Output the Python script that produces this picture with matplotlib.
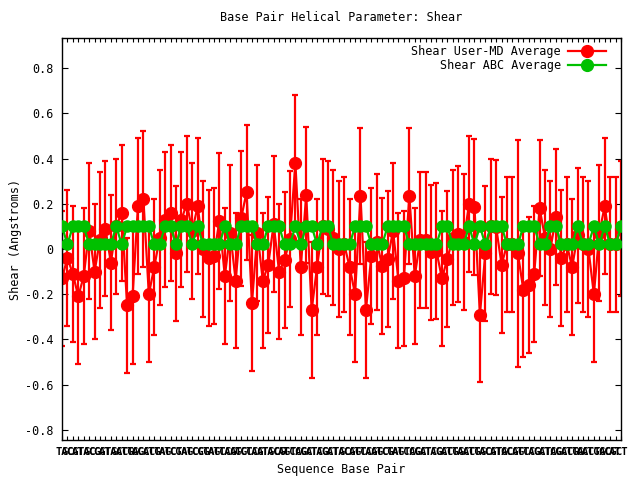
import matplotlib
matplotlib.use("Agg")
import matplotlib.pyplot as plt
from matplotlib.lines import Line2D
import numpy as np

base_pairs = ["TA", "GC", "CG", "AT", "TA", "GC", "CG", "CG", "AT", "TA",
              "GC", "AT", "CG", "TA", "GC", "GC", "AT", "CG", "TA", "AT",
              "GC", "CG", "TA", "AT", "GC", "CG", "CG", "TA", "AT", "GC",
              "TA", "CG", "AT", "GC", "GC", "TA", "CG", "AT", "TA", "GC",
              "CG", "AT", "GC", "TA", "CG", "GC", "AT", "TA", "CG", "GC",
              "AT", "TA", "GC", "CG", "AT", "GC", "TA", "CG", "AT", "GC",
              "CG", "TA", "AT", "GC", "TA", "CG", "GC", "AT", "TA", "CG",
              "GC", "AT", "CG", "TA", "GC", "AT", "CG", "TA", "GC", "CG",
              "AT", "TA", "GC", "CG", "AT", "GC", "TA", "CG", "GC", "AT",
              "TA", "CG", "GC", "AT", "CG", "TA", "GC", "AT", "CG", "TA",
              "GC", "CG", "AT", "CT"]

user_md_avg = [-0.13, -0.04, -0.11, -0.21, -0.12, 0.08, -0.10, 0.04, 0.09, -0.06,
               0.10, 0.16, -0.25, -0.21, 0.19, 0.22, -0.20, -0.08, 0.05, 0.13,
               0.16, -0.02, 0.13, 0.20, 0.08, 0.19, 0.00, -0.04, -0.03, 0.125,
               -0.12, 0.07, -0.14, 0.135, 0.25, -0.24, 0.07, -0.14, -0.07, 0.11,
               -0.10, -0.05, 0.045, 0.38, -0.08, 0.24, -0.27, -0.08, 0.10, 0.09,
               0.05, 0.00, 0.02, -0.08, -0.20, 0.235, -0.27, -0.03, 0.03, -0.075,
               -0.045, 0.08, -0.14, -0.13, 0.235, -0.12, 0.04, 0.04, -0.015, -0.01,
               -0.13, -0.045, 0.05, 0.065, 0.03, 0.20, 0.185, -0.29, -0.02, 0.10,
               0.095, -0.07, 0.02, 0.02, -0.02, -0.18, -0.16, -0.11, 0.18, 0.05,
               0.00, 0.14, -0.04, 0.02, -0.08, 0.06, 0.02, 0.00, -0.20, 0.07,
               0.19, 0.02, 0.02, 0.09]

user_md_err = [0.30, 0.30, 0.30, 0.30, 0.30, 0.30, 0.30, 0.30, 0.30, 0.30,
               0.30, 0.30, 0.30, 0.30, 0.30, 0.30, 0.30, 0.30, 0.30, 0.30,
               0.30, 0.30, 0.30, 0.30, 0.30, 0.30, 0.30, 0.30, 0.30, 0.30,
               0.30, 0.30, 0.30, 0.30, 0.30, 0.30, 0.30, 0.30, 0.30, 0.30,
               0.30, 0.30, 0.30, 0.30, 0.30, 0.30, 0.30, 0.30, 0.30, 0.30,
               0.30, 0.30, 0.30, 0.30, 0.30, 0.30, 0.30, 0.30, 0.30, 0.30,
               0.30, 0.30, 0.30, 0.30, 0.30, 0.30, 0.30, 0.30, 0.30, 0.30,
               0.30, 0.30, 0.30, 0.30, 0.30, 0.30, 0.30, 0.30, 0.30, 0.30,
               0.30, 0.30, 0.30, 0.30, 0.50, 0.30, 0.30, 0.30, 0.30, 0.30,
               0.30, 0.30, 0.30, 0.30, 0.30, 0.30, 0.30, 0.30, 0.30, 0.30,
               0.30, 0.30, 0.30, 0.30]

abc_avg = [0.10, 0.02, 0.10, 0.10, 0.10, 0.02, 0.02, 0.02, 0.02, 0.02,
           0.10, 0.02, 0.10, 0.10, 0.10, 0.10, 0.10, 0.02, 0.02, 0.10,
           0.10, 0.02, 0.10, 0.10, 0.02, 0.10, 0.02, 0.02, 0.02, 0.02,
           0.10, 0.02, 0.02, 0.10, 0.10, 0.10, 0.02, 0.02, 0.10, 0.10,
           0.10, 0.02, 0.02, 0.10, 0.02, 0.10, 0.10, 0.02, 0.10, 0.10,
           0.02, 0.02, 0.02, 0.02, 0.10, 0.10, 0.10, 0.02, 0.02, 0.02,
           0.10, 0.10, 0.10, 0.10, 0.02, 0.02, 0.02, 0.02, 0.02, 0.02,
           0.10, 0.10, 0.02, 0.02, 0.02, 0.10, 0.02, 0.10, 0.02, 0.10,
           0.10, 0.10, 0.02, 0.02, 0.02, 0.10, 0.10, 0.10, 0.02, 0.02,
           0.10, 0.10, 0.02, 0.02, 0.02, 0.10, 0.02, 0.02, 0.10, 0.02,
           0.10, 0.02, 0.02, 0.10]

y_ticks = [0.8, 0.6, 0.4, 0.2, 0.0, -0.2, -0.4, -0.6, -0.8]
y_tick_labels = ["0.8", "0.6", "0.4", "0.2", "0", "-0.2", "-0.4", "-0.6", "-0.8"]

series_names = ["Shear User-MD Average", "Shear ABC Average"]
series_colors = ["#ff0000", "#00c000"]

mono = "DejaVu Sans Mono"
plt.rcParams["font.family"] = mono

fig = plt.figure(figsize=(6.4, 4.8), dpi=100)
ax = fig.add_axes([62 / 640, 1 - 440 / 480, (621 - 62) / 640, (440 - 38) / 480])

x = np.arange(1, len(user_md_avg) + 1)

ax.errorbar(x, user_md_avg, yerr=user_md_err, color=series_colors[0], lw=1.6,
            marker="o", ms=8.5, capsize=2.2, elinewidth=1.6, capthick=1.6,
            zorder=2)
ax.plot(x, abc_avg, color=series_colors[1], lw=1.6, marker="o", ms=8, zorder=3)

ax.set_xlim(1, len(x))
ax.set_ylim(-0.845, 0.933)
ax.set_yticks(y_ticks)
ax.set_yticklabels(y_tick_labels, fontsize=8.5)
ax.set_xticks(x)
ax.set_xticklabels(base_pairs, fontsize=7.5, fontweight="bold")
ax.tick_params(axis="x", direction="in", length=3, width=0.8, top=True, pad=5)
ax.tick_params(axis="y", direction="in", length=4.5, width=0.8, right=True, pad=6)
for s in ax.spines.values():
    s.set_linewidth(1.0)

ax.set_title("Base Pair Helical Parameter: Shear", fontsize=8.5, pad=12)
ax.set_xlabel("Sequence Base Pair", fontsize=8.5, labelpad=4)
ax.set_ylabel("Shear (Angstroms)", fontsize=8.5, labelpad=2)

handles = [Line2D([], [], color=c, lw=1.6, marker="o", ms=8.5) for c in series_colors]
leg = ax.legend(handles, series_names, loc="upper right", frameon=False, fontsize=8.5,
                markerfirst=False, handlelength=3.2, borderaxespad=0.2,
                handletextpad=0.6, labelspacing=0.1, bbox_to_anchor=(0.985, 1.0))
for t in leg.get_texts():
    t.set_ha("right")

fig.savefig("out.png", dpi=100)
